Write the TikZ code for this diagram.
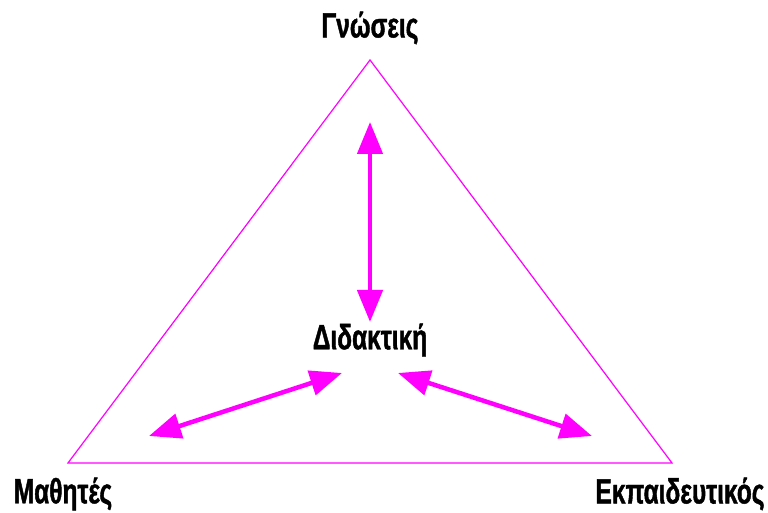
\documentclass[tikz,border=0pt]{standalone}
\usepackage{fontspec}
\setmainfont{Liberation Sans}[FakeStretch=0.7, BoldFeatures={FakeBold=1.2}]
\usepackage{xcolor}
\usetikzlibrary{arrows.meta, positioning}
\definecolor{didactic}{RGB}{255,0,255}

\begin{document}
\begin{tikzpicture}[x=1pt, y=1pt,
    label/.style={font=\bfseries\fontsize{35}{35}\selectfont, text=black, inner sep=0pt},
    edge/.style={draw=didactic, line width=1.2pt, line join=miter},
    link/.style={draw=didactic, line width=4.5pt, {Triangle[length=32pt,width=25pt]}-{Triangle[length=32pt,width=25pt]}}]
    \useasboundingbox (0,0) rectangle (768,513);
    % corners of the triangle
    \coordinate (top) at (370,453);
    \coordinate (left) at (68,50);
    \coordinate (right) at (672,50);
    \draw[edge] (top) -- (left) -- (right) -- cycle;
    % labels
    \node[label] (gnoseis) at (370,485) {Γνώσεις};
    \node[label] (didaktiki) at (370,173) {Διδακτική};
    \node[label] (mathites) at (63,19) {Μαθητές};
    \node[label] (ekpaideutikos) at (680,19) {Εκπαιδευτικός};
    % arrow ends
    \coordinate (up) at (370,391);
    \coordinate (down) at (370,191);
    \coordinate (inleft) at (342,140);
    \coordinate (outleft) at (149,77);
    \coordinate (inright) at (398,140);
    \coordinate (outright) at (592,77);
    \draw[link] (up) -- (down);
    \draw[link] (inleft) -- (outleft);
    \draw[link] (inright) -- (outright);
\end{tikzpicture}
\end{document}
